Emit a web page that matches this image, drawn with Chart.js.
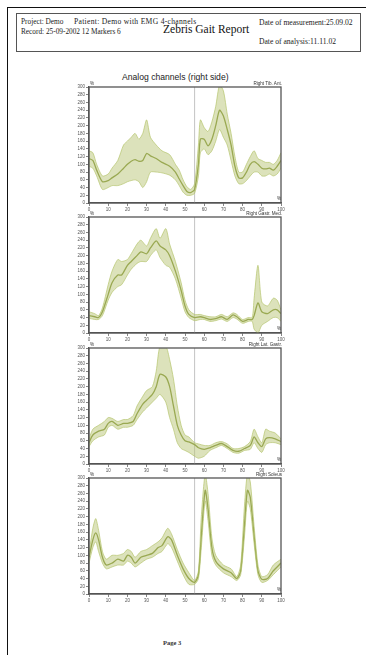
<!DOCTYPE html>
<html><head><meta charset="utf-8">
<script src="https://cdn.jsdelivr.net/npm/chart.js@4.4.1/dist/chart.umd.min.js"></script>
<style>
html,body{margin:0;padding:0;background:#fff;width:366px;height:655px;overflow:hidden;position:relative}
.abs{position:absolute;white-space:pre;line-height:1}
.serif{font-family:"Liberation Serif","DejaVu Serif",serif;color:#222}
.sans{font-family:"Liberation Sans",Arial,sans-serif;color:#333}
canvas{position:absolute}
</style>
</head><body>
<div class="abs" style="left:7px;top:7px;width:370px;height:660px;border-top:1.5px solid #111;border-left:1.5px solid #111"></div>
<div class="abs" style="left:16px;top:13px;width:343px;height:37px;border:1.5px solid #555"></div>
<div class="abs serif" style="left:21px;top:18px;font-size:7.3px">Project: Demo</div>
<div class="abs serif" style="left:74px;top:18px;font-size:7.6px;letter-spacing:0.3px">Patient: Demo with EMG 4-channels</div>
<div class="abs serif" style="left:21px;top:28px;font-size:7.3px">Record: 25-09-2002 12 Markers 6</div>
<div class="abs serif" style="left:163px;top:24px;font-size:11.5px;color:#111">Zebris Gait Report</div>
<div class="abs serif" style="left:259px;top:19px;font-size:7.6px">Date of measurement:25.09.02</div>
<div class="abs serif" style="left:259px;top:38px;font-size:7.6px">Date of analysis:11.11.02</div>
<div class="abs sans" style="left:122px;top:73px;font-size:8.6px;color:#222">Analog channels (right side)</div>
<div class="abs serif" style="left:163px;top:640px;font-size:6.5px;font-weight:bold;color:#333">Page 3</div>

<canvas id="c0" width="240" height="138" style="left:60px;top:77px"></canvas>
<canvas id="c1" width="240" height="138" style="left:60px;top:207px"></canvas>
<canvas id="c2" width="240" height="138" style="left:60px;top:338px"></canvas>
<canvas id="c3" width="240" height="138" style="left:60px;top:468px"></canvas>

<div id="labels"></div>

<script>
// ---------- data ----------
const channelNames = ["Right Tib. Ant.", "Right Gastr. Med.", "Right Lat. Gastr.", "Right Soleus"];
const xTickValues = [0,10,20,30,40,50,60,70,80,90,100];
const yTickValues = [0,20,40,60,80,100,120,140,160,180,200,220,240,260,280,300];
const eventX = 55;

const tibX     = [0,2,4,7,10,12,15,18,20,22,24,26,28,30,32,35,38,42,45,47,49,51,53,55,57,58,60,62,64,66,68,70,72,74,76,78,80,82,84,86,88,90,92,94,96,98,100];
const tibMean  = [115,110,85,55,58,65,75,90,100,108,112,108,110,128,122,115,105,95,80,62,45,30,27,35,100,165,165,148,165,200,240,225,190,150,95,65,65,80,100,107,100,90,88,90,85,95,110];
const tibUpper = [135,130,100,70,75,90,110,150,160,170,180,165,180,215,170,150,135,125,100,85,60,42,35,50,150,215,195,185,210,250,305,290,230,180,120,80,80,100,120,135,115,110,105,105,100,110,130];
const tibLower = [95,90,70,35,40,45,45,50,55,58,60,55,40,55,80,80,78,72,60,45,28,20,20,25,70,130,140,125,135,160,190,170,150,110,70,50,50,58,70,80,80,70,70,75,70,75,90];

const gasX     = [0,3,5,7,10,12,15,17,20,22,25,27,30,32,35,37,40,42,45,48,50,52,55,58,60,63,66,69,72,75,77,80,83,85,86,88,90,93,96,98,100];
const gasMean  = [45,42,40,55,100,130,150,150,175,185,200,210,205,220,238,225,215,200,160,110,70,48,40,42,40,35,37,42,35,47,42,30,35,35,45,78,55,50,60,60,50];
const gasUpper = [55,50,45,65,125,160,190,185,190,205,230,240,225,245,270,245,270,230,185,130,85,60,48,48,45,42,42,48,42,52,48,35,40,40,90,175,80,70,90,85,60];
const gasLower = [38,35,35,45,85,105,120,125,150,165,180,185,185,200,215,195,175,170,140,90,55,40,32,35,35,30,32,36,30,40,36,25,30,30,10,0,20,30,40,40,30];

const latX     = [0,2,5,8,10,12,15,18,20,23,25,28,30,33,35,37,40,42,44,46,48,50,52,55,57,60,63,66,69,72,75,78,81,84,86,88,90,92,94,97,100];
const latMean  = [55,75,85,90,105,110,100,105,105,110,130,155,165,180,200,232,225,200,150,100,75,60,57,50,42,38,42,48,53,45,35,33,40,48,70,55,45,65,68,65,58];
const latUpper = [65,90,100,110,120,118,110,115,115,125,150,175,190,200,240,305,305,270,220,150,100,75,70,55,52,48,48,55,58,52,40,40,45,58,90,70,55,90,85,80,65];
const latLower = [45,60,70,75,95,100,90,95,95,100,115,135,145,160,170,180,160,120,90,55,40,35,30,20,15,20,35,42,48,40,30,28,35,38,55,40,30,50,55,55,50];

const solX     = [0,2,3.5,5,7,9,12,15,18,20,22,24,27,30,33,36,38,41,43,46,49,52,55,57,58.5,60.5,62,64,66,70,74,77,79,81,82.5,84,86,88,90,93,96,100];
const solMean  = [95,140,158,140,95,75,80,90,85,100,95,80,95,100,105,120,125,148,140,100,65,40,30,50,150,268,220,120,85,65,55,40,60,180,268,250,150,60,38,40,60,80];
const solUpper = [105,170,195,165,110,90,100,100,105,115,110,95,110,115,125,135,145,170,155,115,80,55,35,60,200,310,260,145,100,75,65,45,75,230,310,290,175,75,45,50,75,90];
const solLower = [80,120,135,110,80,65,70,75,75,85,80,70,80,90,95,105,110,130,120,85,50,25,25,40,120,240,190,100,75,55,45,35,50,150,240,220,130,50,30,35,50,70];

// ---------- drawing ----------
const channels = [
  {x: tibX, mean: tibMean, up: tibUpper, lo: tibLower},
  {x: gasX, mean: gasMean, up: gasUpper, lo: gasLower},
  {x: latX, mean: latMean, up: latUpper, lo: latLower},
  {x: solX, mean: solMean, up: solUpper, lo: solLower}
];

const frame = {
  id: 'frame',
  afterDraw(chart) {
    const a = chart.chartArea, c = chart.ctx;
    c.save();
    c.strokeStyle = '#555'; c.lineWidth = 1.3;
    c.strokeRect(a.left, a.top, a.right - a.left, a.bottom - a.top);
    c.restore();
  }
};

const pts = (xs, ys) => xs.map((v, i) => ({x: v, y: ys[i]}));
const labelsDiv = document.getElementById('labels');

channels.forEach((ch, k) => {
  const cv = document.getElementById('c' + k);
  new Chart(cv, {
    type: 'line',
    data: {
      datasets: [
        {data: pts(ch.x, ch.up), borderColor: 'rgba(180,196,105,0.85)', borderWidth: 0.8,
         backgroundColor: 'rgba(185,198,120,0.5)', fill: '+1', pointRadius: 0, tension: 0.25},
        {data: pts(ch.x, ch.lo), borderColor: 'rgba(180,196,105,0.85)', borderWidth: 0.8,
         fill: false, pointRadius: 0, tension: 0.25},
        {data: pts(ch.x, ch.mean), borderColor: '#7a8c2c', borderWidth: 1.3,
         fill: false, pointRadius: 0, tension: 0.25},
        {data: [{x: eventX, y: 0}, {x: eventX, y: 300}], borderColor: '#aaa', borderWidth: 0.7,
         fill: false, pointRadius: 0}
      ]
    },
    options: {
      responsive: false, animation: false, devicePixelRatio: 1,
      layout: {padding: {top: 10, right: 19, left: 0, bottom: 0}},
      plugins: {legend: {display: false}, tooltip: {enabled: false}, title: {display: false}},
      scales: {
        x: {
          type: 'linear', min: 0, max: 100, offset: false,
          afterBuildTicks: s => { s.ticks = xTickValues.map(v => ({value: v})); },
          afterFit: s => { s.height = 12; },
          grid: {display: true, drawOnChartArea: false, drawTicks: true, tickLength: 3, color: '#666', lineWidth: 0.8},
          border: {display: true, color: '#555', width: 1.3},
          ticks: {font: {size: 4.5, family: 'Liberation Sans'}, color: '#555', padding: 1, maxRotation: 0, autoSkip: false}
        },
        y: {
          type: 'linear', min: 0, max: 300,
          afterBuildTicks: s => { s.ticks = yTickValues.map(v => ({value: v})); },
          afterFit: s => { s.width = 29; },
          grid: {display: true, drawOnChartArea: false, drawTicks: true, tickLength: 3, color: '#666', lineWidth: 0.8},
          border: {display: true, color: '#555', width: 1.3},
          ticks: {font: {size: 4.5, family: 'Liberation Sans'}, color: '#555', padding: 1, autoSkip: false}
        }
      }
    },
    plugins: [frame]
  });
  const top = parseFloat(cv.style.top) + 10;
  const bottom = top + 116;
  const nm = document.createElement('div');
  nm.className = 'abs sans';
  nm.style.cssText = 'right:' + (366 - 282) + 'px;top:' + (top - 5) + 'px;font-size:4.6px;color:#333';
  nm.textContent = channelNames[k];
  labelsDiv.appendChild(nm);
  const p1 = document.createElement('div');
  p1.className = 'abs sans';
  p1.style.cssText = 'left:90px;top:' + (top - 5) + 'px;font-size:4.6px;color:#333';
  p1.textContent = '%';
  labelsDiv.appendChild(p1);
  const p2 = document.createElement('div');
  p2.className = 'abs sans';
  p2.style.cssText = 'left:277px;top:' + (bottom - 6) + 'px;font-size:4.6px;color:#333';
  p2.textContent = '%';
  labelsDiv.appendChild(p2);
});
</script>
</body></html>
